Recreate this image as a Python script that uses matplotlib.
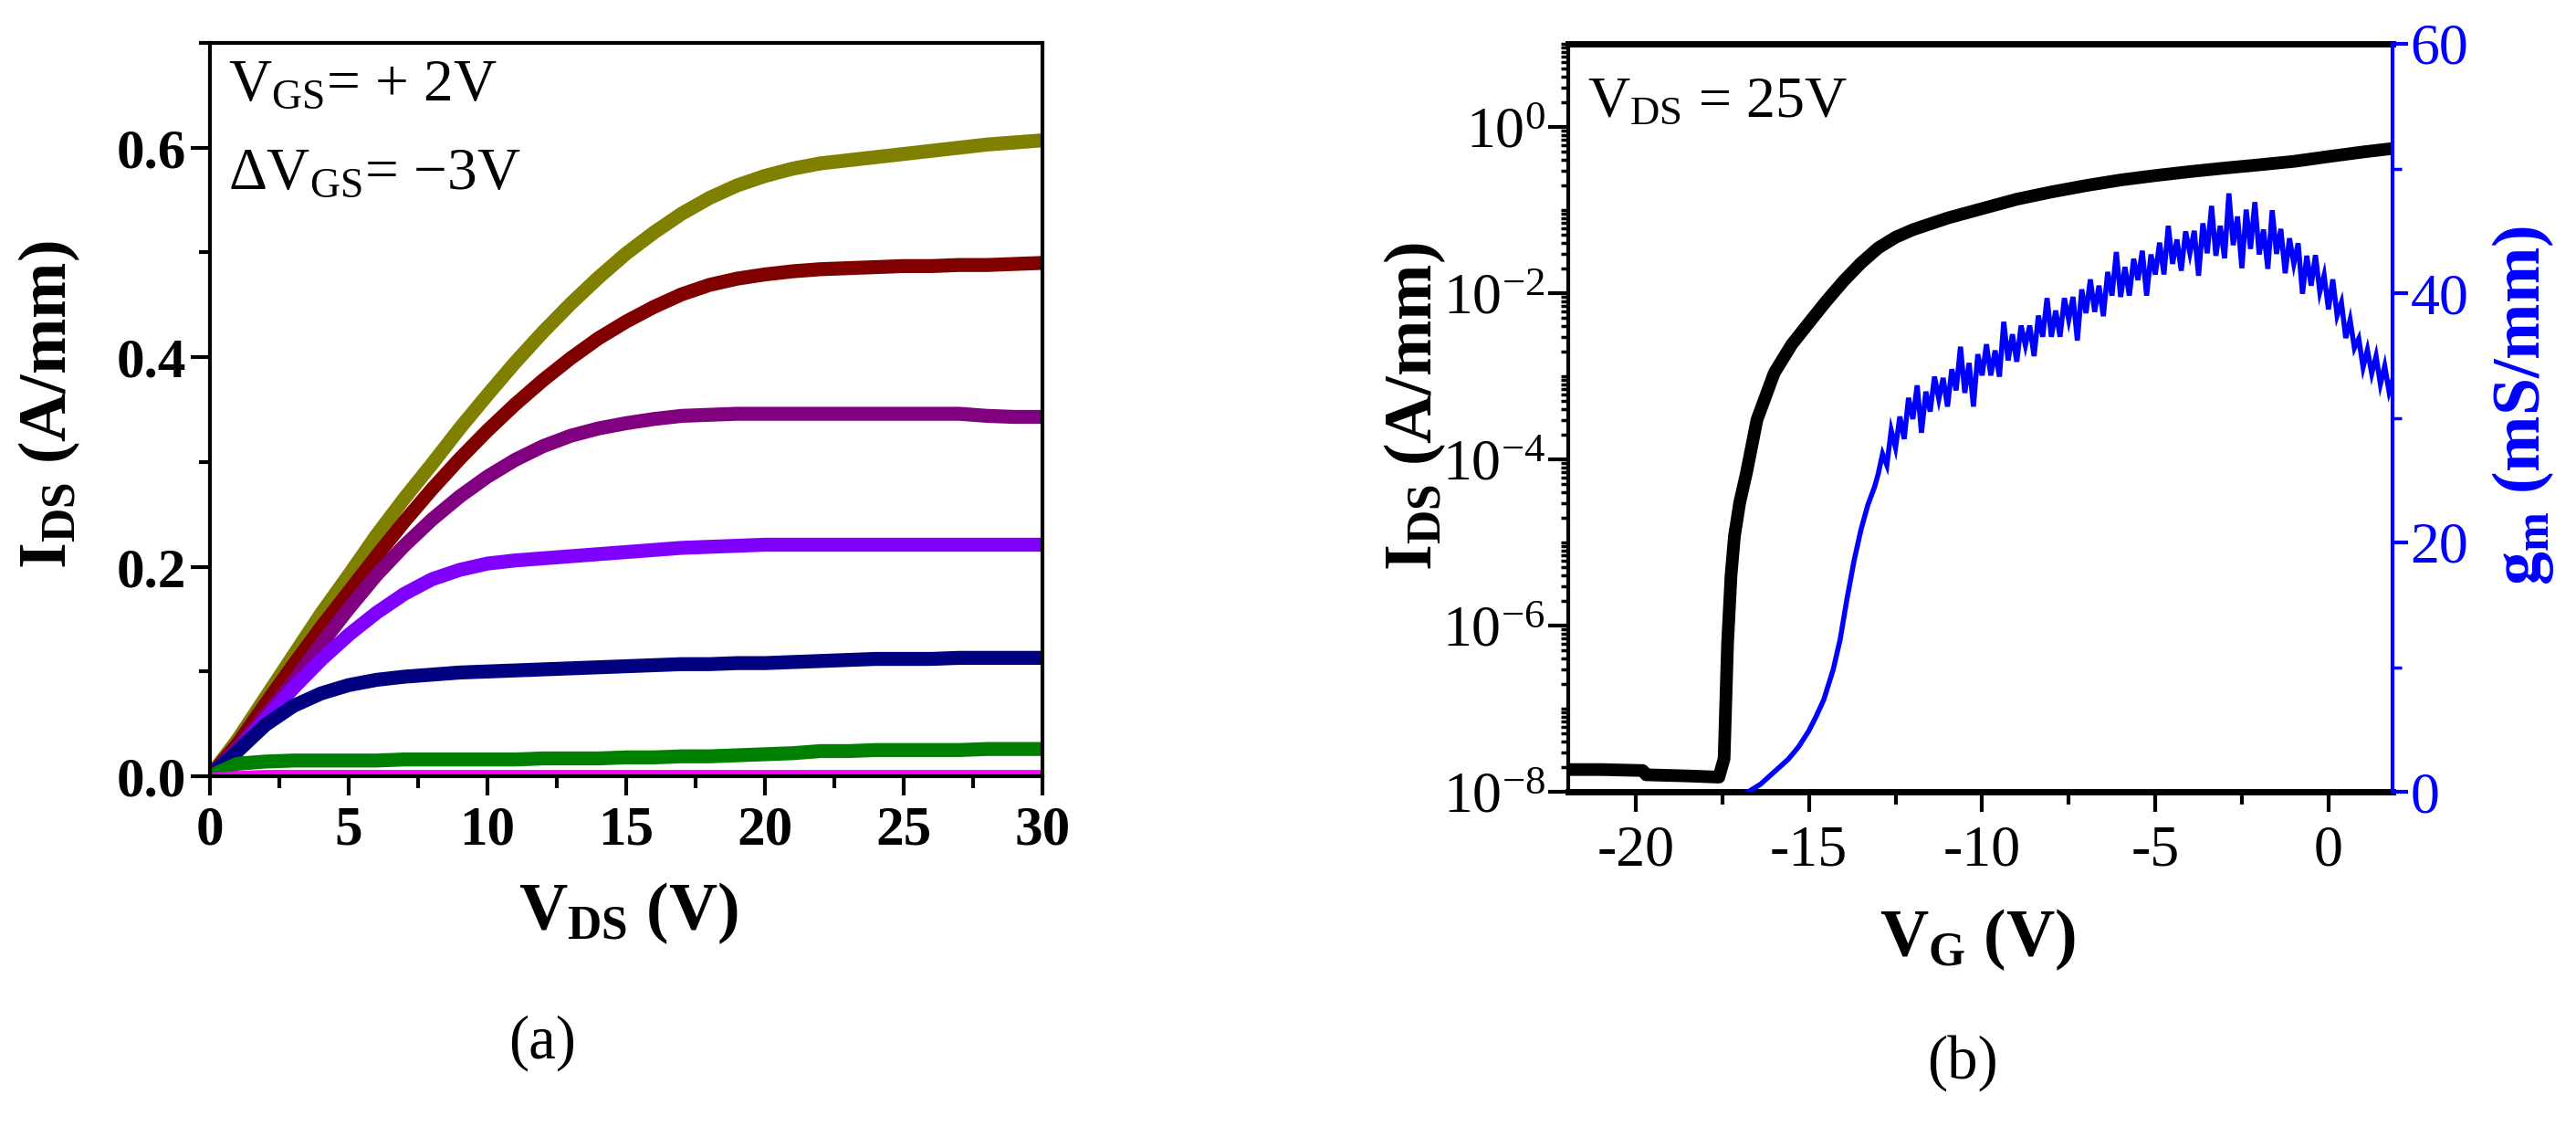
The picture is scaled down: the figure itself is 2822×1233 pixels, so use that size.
import numpy as np
import matplotlib
matplotlib.use("Agg")
import matplotlib.pyplot as plt
from matplotlib.ticker import FixedLocator, MultipleLocator, FixedFormatter

plt.rcParams['font.family'] = ['Liberation Serif', 'DejaVu Serif']
plt.rcParams['mathtext.fontset'] = 'custom'
plt.rcParams['mathtext.rm'] = 'Liberation Serif'
plt.rcParams['mathtext.it'] = 'Liberation Serif:italic'
plt.rcParams['mathtext.bf'] = 'Liberation Serif:bold'
plt.rcParams['axes.unicode_minus'] = False

# ---------------- Panel (a): output characteristics ----------------
vds = [0, 1, 2, 3, 4, 5, 6, 7, 8, 9, 10, 11, 12, 13, 14, 15, 16, 17, 18, 19, 20,
       21, 22, 23, 24, 25, 26, 27, 28, 29, 30]
id_vgs_p2 = [0, 0.035, 0.075, 0.115, 0.155, 0.192, 0.230, 0.265, 0.298, 0.332, 0.364,
             0.395, 0.424, 0.451, 0.476, 0.499, 0.519, 0.537, 0.552, 0.564, 0.573,
             0.580, 0.585, 0.588, 0.591, 0.594, 0.597, 0.600, 0.603, 0.605, 0.607]
id_vgs_m1 = [0, 0.031, 0.069, 0.106, 0.142, 0.176, 0.210, 0.243, 0.274, 0.303, 0.330,
             0.355, 0.378, 0.399, 0.418, 0.434, 0.448, 0.460, 0.469, 0.475, 0.479,
             0.482, 0.484, 0.485, 0.486, 0.487, 0.487, 0.488, 0.488, 0.489, 0.490]
id_vgs_m4 = [0, 0.027, 0.058, 0.090, 0.126, 0.160, 0.192, 0.220, 0.245, 0.267, 0.286,
             0.302, 0.315, 0.325, 0.332, 0.337, 0.341, 0.344, 0.345, 0.346, 0.346,
             0.346, 0.346, 0.346, 0.346, 0.346, 0.346, 0.346, 0.344, 0.343, 0.343]
id_vgs_m7 = [0, 0.024, 0.054, 0.084, 0.111, 0.135, 0.156, 0.174, 0.188, 0.197, 0.203,
             0.206, 0.208, 0.210, 0.212, 0.214, 0.216, 0.218, 0.219, 0.220, 0.221,
             0.221, 0.221, 0.221, 0.221, 0.221, 0.221, 0.221, 0.221, 0.221, 0.221]
id_vgs_m10 = [0, 0.024, 0.049, 0.067, 0.079, 0.087, 0.092, 0.095, 0.097, 0.099, 0.100,
              0.101, 0.102, 0.103, 0.104, 0.105, 0.106, 0.107, 0.107, 0.108, 0.108,
              0.109, 0.110, 0.111, 0.112, 0.112, 0.112, 0.113, 0.113, 0.113, 0.113]
id_vgs_m13 = [0, 0.012, 0.014, 0.015, 0.015, 0.015, 0.015, 0.016, 0.016, 0.016, 0.016,
              0.016, 0.017, 0.017, 0.017, 0.018, 0.018, 0.019, 0.019, 0.020, 0.021,
              0.022, 0.024, 0.024, 0.025, 0.025, 0.025, 0.025, 0.026, 0.026, 0.026]
id_vgs_m16 = [0, 0.002, 0.003, 0.003, 0.003, 0.003, 0.003, 0.003, 0.003, 0.003, 0.003,
              0.003, 0.003, 0.003, 0.003, 0.003, 0.003, 0.003, 0.003, 0.003, 0.003,
              0.003, 0.003, 0.003, 0.003, 0.003, 0.003, 0.003, 0.003, 0.003, 0.003]
curves_a = [id_vgs_p2, id_vgs_m1, id_vgs_m4, id_vgs_m7, id_vgs_m10, id_vgs_m13, id_vgs_m16]
colors_a = ['#808000', '#800000', '#800080', '#8000FF', '#000080', '#008000', '#FF00FF']
xticks_a = [0, 5, 10, 15, 20, 25, 30]
yticks_a = [0.0, 0.2, 0.4, 0.6]
ytick_labels_a = ['0.0', '0.2', '0.4', '0.6']

# ---------------- Panel (b): transfer characteristics ----------------
vg_id = [-22.0, -21.0, -19.8, -19.7, -18.5, -17.6, -17.45, -17.35, -17.25, -17.15,
         -17.0, -16.8, -16.5, -16.0, -15.5, -15.0, -14.5, -14.0, -13.5, -13.0, -12.5,
         -12.0, -11.0, -10.0, -9.0, -8.0, -7.0, -6.0, -5.0, -4.0, -3.0, -2.0, -1.0,
         0.0, 1.0, 1.85]
ids_b = [1.85e-8, 1.85e-8, 1.8e-8, 1.6e-8, 1.55e-8, 1.5e-8, 2.5e-8, 6e-7, 4e-6, 1.2e-5,
         3e-5, 7e-5, 3e-4, 1.1e-3, 2.4e-3, 4.4e-3, 8e-3, 1.4e-2, 2.3e-2, 3.5e-2, 4.7e-2,
         5.8e-2, 8.0e-2, 1.04e-1, 1.35e-1, 1.65e-1, 1.97e-1, 2.3e-1, 2.6e-1, 2.9e-1,
         3.2e-1, 3.5e-1, 3.85e-1, 4.4e-1, 5.0e-1, 5.5e-1]

vg_gm = [-16.75, -16.4, -16.0, -15.6, -15.3, -15.0, -14.8, -14.57, -14.3, -14.1, -13.9,
         -13.7, -13.5, -13.3, -13.1,
         -13.0, -12.875, -12.75, -12.625, -12.5, -12.375, -12.25, -12.125,
         -12.0, -11.875, -11.75, -11.625, -11.5, -11.375, -11.25, -11.125,
         -11.0, -10.875, -10.75, -10.625, -10.5, -10.375, -10.25, -10.125,
         -10.0, -9.875, -9.75, -9.625, -9.5, -9.375, -9.25, -9.125,
         -9.0, -8.875, -8.75, -8.625, -8.5, -8.375, -8.25, -8.125,
         -8.0, -7.875, -7.75, -7.625, -7.5, -7.375, -7.25, -7.125,
         -7.0, -6.875, -6.75, -6.625, -6.5, -6.375, -6.25, -6.125,
         -6.0, -5.875, -5.75, -5.625, -5.5, -5.375, -5.25, -5.125,
         -5.0, -4.875, -4.75, -4.625, -4.5, -4.375, -4.25, -4.125,
         -4.0, -3.875, -3.75, -3.625, -3.5, -3.375, -3.25, -3.125,
         -3.0, -2.875, -2.75, -2.625, -2.5, -2.375, -2.25, -2.125,
         -2.0, -1.875, -1.75, -1.625, -1.5, -1.375, -1.25, -1.125,
         -1.0, -0.875, -0.75, -0.625, -0.5, -0.375, -0.25, -0.125,
         0.0, 0.125, 0.25, 0.375, 0.5, 0.625, 0.75, 0.875,
         1.0, 1.125, 1.25, 1.375, 1.5, 1.625, 1.75, 1.85]
gm_b = [0.0, 0.6, 1.6, 2.6, 3.6, 4.9, 6.0, 7.4, 9.8, 12.2, 15.5,
        18.5, 21.0, 23.0, 24.5,
        25.5, 27.1, 26.2, 29.0, 27.6, 30.1, 28.3, 31.6,
        29.9, 32.6, 28.8, 32.1, 30.5, 33.3, 31.5, 33.2,
        30.9, 33.9, 32.2, 35.7, 32.0, 34.4, 30.9, 35.1,
        33.4, 35.9, 33.4, 35.4, 33.3, 37.7, 34.6, 36.7,
        34.5, 37.4, 35.8, 37.4, 34.95, 38.2, 36.5, 39.6,
        36.5, 38.6, 36.5, 39.6, 37.85, 39.7, 36.2, 40.3,
        38.4, 41.1, 38.5, 40.6, 38.15, 41.7, 39.8, 43.3,
        39.7, 42.1, 39.8, 42.75, 41.05, 43.4, 39.8, 43.1,
        41.5, 44.05, 41.5, 45.4, 42.35, 44.3, 41.8, 44.95,
        43.2, 45.0, 41.4, 45.6, 43.2, 47.0, 43.0, 45.4,
        42.8, 48.0, 43.85, 46.15, 42.0, 46.7, 43.55, 47.3,
        43.1, 45.1, 41.95, 46.65, 43.15, 45.15, 41.6, 44.4,
        42.35, 44.0, 39.95, 43.0, 40.6, 43.05, 40.1, 41.45,
        38.7, 41.1, 38.2, 39.25, 36.4, 37.85, 35.6, 36.35,
        34.05, 35.45, 33.55, 34.95, 32.7, 34.15, 32.1, 33.0]
xticks_b = [-20, -15, -10, -5, 0]
yticks_b = [1e-8, 1e-6, 1e-4, 1e-2, 1e0]
ytick_labels_b = [r'$\mathrm{10^{-8}}$', r'$\mathrm{10^{-6}}$', r'$\mathrm{10^{-4}}$',
                  r'$\mathrm{10^{-2}}$', r'$\mathrm{10^{0}}$']
gm_ticks = [0, 20, 40, 60]

# ---------------- Figure ----------------
W, H = 2822, 1233
fig = plt.figure(figsize=(W / 100, H / 100), dpi=100)


def box(l, r, t, b):
    return [l / W, 1 - b / H, (r - l) / W, (b - t) / H]


def fx(x):
    return x / W


def fy(y):
    return 1 - y / H


# Panel (a)
ax = fig.add_axes(box(230, 1142, 47, 850))
for ys, c in zip(curves_a, colors_a):
    lw = 5 if c == '#FF00FF' else 11
    ax.plot(vds, ys, color=c, lw=lw, solid_capstyle='butt', solid_joinstyle='round')
ax.set_xlim(0, 30)
ax.set_ylim(0, 0.7)
ax.xaxis.set_major_locator(FixedLocator(xticks_a))
ax.xaxis.set_minor_locator(MultipleLocator(2.5))
ax.yaxis.set_major_locator(FixedLocator(yticks_a))
ax.yaxis.set_major_formatter(FixedFormatter(ytick_labels_a))
ax.yaxis.set_minor_locator(MultipleLocator(0.1))
ax.tick_params(which='major', direction='out', length=15, width=3, labelsize=44, pad=4)
ax.tick_params(which='minor', direction='out', length=9, width=3)
ax.tick_params(axis='x', which='major', pad=8)
for lab in ax.get_xticklabels() + ax.get_yticklabels():
    lab.set_fontweight('bold')
for s in ax.spines.values():
    s.set_linewidth(3)

fig.text(fx(54), fy(443), r'$\mathbf{I_{DS}}$ (A/mm)', rotation=90, ha='center',
         va='center', fontsize=53, fontweight='bold')
fig.text(fx(688), fy(1000), r'$\mathbf{V_{DS}}$ (V)', ha='center', va='center',
         fontsize=53, fontweight='bold')
fig.text(fx(250), fy(110), r'$\mathrm{V_{GS}}$= + 2V', ha='left', va='baseline',
         fontsize=47)
fig.text(fx(250), fy(207), r'ΔV$\mathrm{_{GS}}$= $-$3V', ha='left', va='baseline',
         fontsize=47)
fig.text(fx(594), fy(1142), '(a)', ha='center', va='center', fontsize=48)

# Panel (b)
bx = fig.add_axes(box(1718, 2621, 48, 867))
bx.plot(vg_id, ids_b, color='black', lw=10, solid_joinstyle='round')
bx.set_yscale('log')
bx.set_xlim(-21.95, 1.85)
bx.set_ylim(1e-8, 10)
bx.xaxis.set_major_locator(FixedLocator(xticks_b))
bx.xaxis.set_minor_locator(MultipleLocator(2.5))
bx.yaxis.set_major_locator(FixedLocator(yticks_b))
bx.yaxis.set_major_formatter(FixedFormatter(ytick_labels_b))
minor_b = [m * 10.0 ** e for e in range(-8, 1) for m in range(2, 10)] + \
          [10.0 ** e for e in (-7, -5, -3, -1, 1)]
bx.yaxis.set_minor_locator(FixedLocator(minor_b))
bx.yaxis.set_minor_formatter(FixedFormatter([''] * len(minor_b)))
bx.tick_params(which='major', direction='out', length=16, width=3, labelsize=46)
bx.tick_params(axis='x', which='major', pad=10)
bx.tick_params(axis='y', which='major', pad=2)
bx.tick_params(which='minor', direction='out', length=6, width=2.5)
bx.tick_params(axis='x', which='minor', length=10, width=3)
bx.spines['left'].set_linewidth(3)
bx.spines['bottom'].set_linewidth(5)
bx.spines['top'].set_linewidth(5)
bx.spines['right'].set_visible(False)

b2 = bx.twinx()
b2.plot(vg_gm, gm_b, color='#0000FF', lw=4, solid_joinstyle='miter')
b2.set_ylim(0, 60)
b2.yaxis.set_major_locator(FixedLocator(gm_ticks))
b2.yaxis.set_minor_locator(MultipleLocator(10))
b2.tick_params(which='major', direction='out', length=12, width=3, labelsize=46,
               colors='#0000FF', pad=2)
b2.tick_params(which='minor', direction='out', length=7, width=2.5, colors='#0000FF')
for side in ('left', 'top', 'bottom'):
    b2.spines[side].set_visible(False)
b2.spines['right'].set_color('#0000FF')
b2.spines['right'].set_linewidth(3)

fig.text(fx(1550), fy(445), r'$\mathbf{I_{DS}}$ (A/mm)', rotation=90, ha='center',
         va='center', fontsize=53, fontweight='bold')
fig.text(fx(2764), fy(444), r'$\mathbf{g_m}$ (mS/mm)', rotation=90, ha='center',
         va='center', fontsize=53, fontweight='bold', color='#0000FF')
fig.text(fx(2167), fy(1029), r'$\mathbf{V_G}$ (V)', ha='center', va='center',
         fontsize=53, fontweight='bold')
fig.text(fx(1739), fy(128), r'$\mathrm{V_{DS}}$ = 25V', ha='left', va='baseline',
         fontsize=46)
fig.text(fx(2150), fy(1164), '(b)', ha='center', va='center', fontsize=48)

fig.savefig('out.png', dpi=100)
